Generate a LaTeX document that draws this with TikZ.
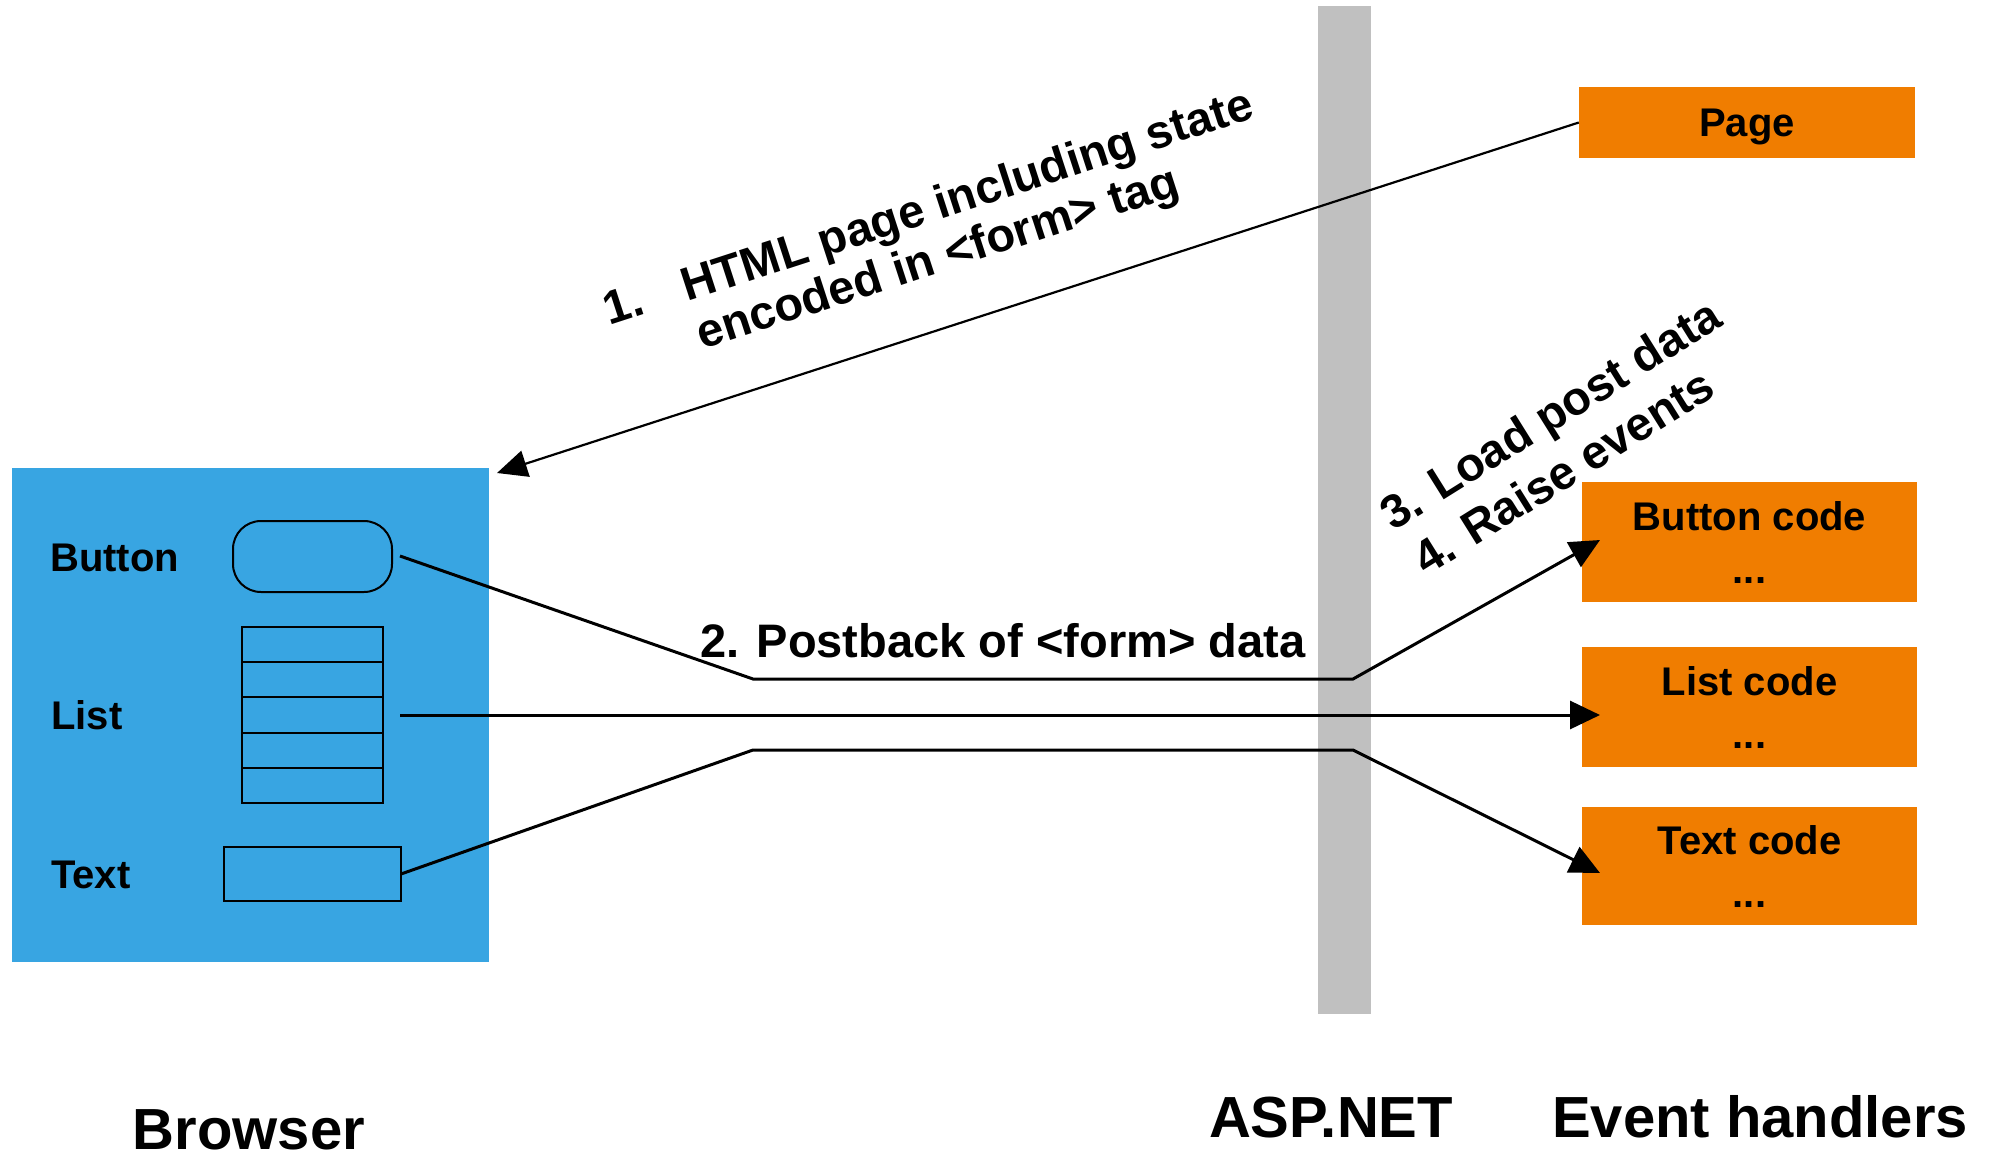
\documentclass[tikz,border=0pt]{standalone}
\usepackage{fontspec}
\setmainfont{Liberation Sans}
\usetikzlibrary{arrows.meta,calc}
\definecolor{browserblue}{RGB}{56,165,226}
\definecolor{handlerorange}{RGB}{240,125,0}
\definecolor{bargrey}{RGB}{192,192,192}
\begin{document}
\begin{tikzpicture}[x=1pt,y=-1pt,
  lbl/.style={font=\fontsize{40}{46}\selectfont\bfseries, inner sep=0pt},
  biglbl/.style={font=\fontsize{47}{52}\selectfont\bfseries, inner sep=0pt},
  titlelbl/.style={font=\fontsize{58}{64}\selectfont\bfseries, inner sep=0pt},
  handler/.style={fill=handlerorange, draw=none, inner sep=0pt,
    font=\fontsize{40}{53}\selectfont\bfseries, align=center},
  widget/.style={draw=black, line width=2pt, inner sep=0pt},
  conn/.style={line width=3pt, -{Triangle[length=30pt,width=28pt]}},
  thinconn/.style={line width=2.2pt, -{Triangle[length=30pt,width=27pt]}},
]
\useasboundingbox (0,0) rectangle (1993,1154);
\fill[white] (0,0) rectangle (1993,1154);

% browser panel
\node[fill=browserblue, minimum width=477pt, minimum height=494pt, inner sep=0pt] (browser) at (250.5,715) {};
% ASP.NET bar
\node[fill=bargrey, minimum width=53pt, minimum height=1008pt, inner sep=0pt] (aspbar) at (1344.5,510) {};

% widgets
\node[widget, rounded corners=28pt, minimum width=159pt, minimum height=71pt] (btnw) at (312.5,556.5) {};
\node[widget, minimum width=141pt, minimum height=176pt] (listw) at (312.5,715) {};
\foreach \f in {0.2,0.4,0.6,0.8}{
  \draw[line width=2pt] ($(listw.north west)!\f!(listw.south west)$) -- ($(listw.north east)!\f!(listw.south east)$);
}
\node[widget, minimum width=177pt, minimum height=54pt] (textw) at (312.5,874) {};

\node[lbl, anchor=base west] (btnlbl) at (50,571) {Button};
\node[lbl, anchor=base west] (listlbl) at (51,729) {List};
\node[lbl, anchor=base west] (textlbl) at (51,888) {Text};

% handler boxes
\node[handler, text depth=0pt, minimum width=336pt, minimum height=71pt] (page) at (1747,122.5) {Page};
\node[handler, minimum width=335pt, minimum height=120pt] (btncode) at (1749.5,542) {Button code\\...};
\node[handler, minimum width=335pt, minimum height=120pt] (listcode) at (1749.5,707) {List code\\...};
\node[handler, minimum width=335pt, minimum height=118pt] (textcode) at (1749.5,866) {Text code\\...};

% labels
\node[biglbl, rotate=18, anchor=base west] (s1num) at (609,326) {1.};
\node[biglbl, rotate=18, anchor=base west] (s1a) at (687,302) {HTML page including state};
\node[biglbl, rotate=18, anchor=base west] (s1b) at (702,350) {encoded in <form> tag};
\node[biglbl, anchor=base west] (s2) at (700,657) {2. Postback of <form> data};
\node[biglbl, rotate=32, anchor=base west] (s3) at (1393,532) {3. Load post data};
\node[biglbl, rotate=32, anchor=base west] (s4) at (1426,577) {4. Raise events};

\node[titlelbl, anchor=base] (browserlbl) at (249,1149) {Browser};
\node[titlelbl, anchor=base] (aspnetlbl) at (1331,1137) {ASP.NET};
\node[titlelbl, anchor=base] (evlbl) at (1760,1137) {Event handlers};

% connectors
\coordinate (tip1) at (497,473);
\draw[thinconn] (page.west) -- (tip1);

\coordinate (b0) at (400,556);
\coordinate (b1) at (753,679);
\coordinate (b2) at (1353,679);
\coordinate (btip) at (1600,540);
\draw[conn] (b0) -- (b1) -- (b2) -- (btip);

\coordinate (l0) at (400,715);
\coordinate (ltip) at (1600,715);
\draw[conn] (l0) -- (ltip);

\coordinate (t0) at (401,874);
\coordinate (t1) at (753,750);
\coordinate (t2) at (1353,750);
\coordinate (ttip) at (1600,873);
\draw[conn] (t0) -- (t1) -- (t2) -- (ttip);
\end{tikzpicture}
\end{document}
